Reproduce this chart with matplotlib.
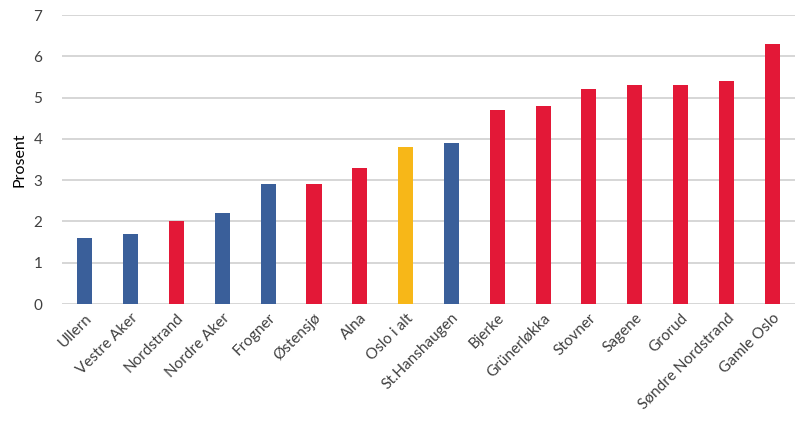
import matplotlib
matplotlib.use("Agg")
import matplotlib.pyplot as plt

plt.rcParams['font.family'] = ['Lato', 'DejaVu Sans']

# data
bydeler = ["Ullern", "Vestre Aker", "Nordstrand", "Nordre Aker", "Frogner",
           "Østensjø", "Alna", "Oslo i alt", "St.Hanshaugen", "Bjerke",
           "Grünerløkka", "Stovner", "Sagene", "Grorud", "Søndre Nordstrand",
           "Gamle Oslo"]
prosent = [1.6, 1.7, 2.0, 2.2, 2.9, 2.9, 3.3, 3.8, 3.9, 4.7, 4.8, 5.2, 5.3, 5.3, 5.4, 6.3]
gruppe = ["b", "b", "r", "b", "b", "r", "r", "y", "b", "r", "r", "r", "r", "r", "r", "r"]
yticks = [0, 1, 2, 3, 4, 5, 6, 7]

farge = {"b": "#3A5F9A", "r": "#E31837", "y": "#F7B718"}

fig = plt.figure(figsize=(8.04, 4.25), dpi=100)
ax = fig.add_axes([0.077, 0.2847, 0.912, 0.68])

ax.bar(range(len(bydeler)), prosent, width=0.33,
       color=[farge[g] for g in gruppe], zorder=3)

ax.set_xlim(-0.5, len(bydeler) - 0.5)
ax.set_ylim(0, 7)
ax.set_yticks(yticks)
ax.yaxis.grid(True, color="#D0D0D0", linewidth=1.2, zorder=0)
for s in ["top", "right", "left", "bottom"]:
    ax.spines[s].set_visible(False)
ax.tick_params(axis="both", length=0, labelsize=11, colors="#404040")
ax.tick_params(axis="y", pad=14)
ax.tick_params(axis="x", pad=5)
ax.set_xticks(range(len(bydeler)))
ax.set_xticklabels(bydeler, rotation=45, ha="right", rotation_mode="anchor")
ax.set_ylabel("Prosent", fontsize=11.5, color="black", labelpad=5)

fig.savefig("out.png", dpi=100)
